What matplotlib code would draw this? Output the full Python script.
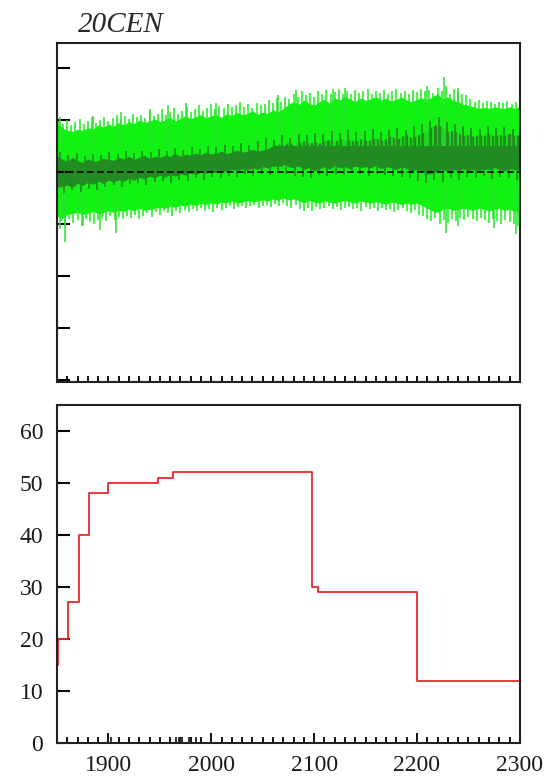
import numpy as np
import matplotlib
matplotlib.use("Agg")
import matplotlib.pyplot as plt
from matplotlib.ticker import MultipleLocator

plt.rcParams['font.family'] = ['Liberation Serif', 'DejaVu Serif']

# --- top panel: anomaly band (values read every 5 years, 1850-2300) ---
years5 = np.arange(1850, 2301, 5)

light_hi = [0.95, 0.85, 0.8, 0.78, 0.82, 0.8, 0.85, 0.83, 0.9, 0.86, 0.92,
            0.88, 0.95, 0.9, 0.97, 0.93, 1.0, 0.95, 0.98, 1.02, 0.97,
            1.0, 1.05, 0.98, 1.03, 1.08, 1.02, 1.06, 1.1, 1.04, 1.08,
            1.1, 1.05, 1.12, 1.08, 1.15, 1.1, 1.12, 1.18, 1.1, 1.15,
            1.12, 1.2, 1.15, 1.22, 1.3, 1.35, 1.3, 1.38, 1.32, 1.28,
            1.35, 1.4, 1.32, 1.42, 1.38, 1.45, 1.4, 1.35, 1.42, 1.38,
            1.4, 1.45, 1.38, 1.42, 1.36, 1.4, 1.44, 1.38, 1.35, 1.4,
            1.42, 1.38, 1.45, 1.5, 1.4, 1.44, 1.38, 1.35, 1.3, 1.28,
            1.25, 1.22, 1.24, 1.22, 1.25, 1.23, 1.22, 1.25, 1.22, 1.26]
light_lo = [-0.85, -0.9, -0.82, -0.8, -0.78, -0.82, -0.8, -0.76, -0.8, -0.78, -0.75,
            -0.78, -0.74, -0.76, -0.72, -0.75, -0.7, -0.74, -0.72, -0.7, -0.68,
            -0.7, -0.66, -0.68, -0.64, -0.66, -0.62, -0.65, -0.6, -0.63, -0.6,
            -0.62, -0.58, -0.6, -0.56, -0.6, -0.58, -0.55, -0.58, -0.56, -0.54,
            -0.56, -0.52, -0.55, -0.5, -0.54, -0.52, -0.55, -0.6, -0.55, -0.58,
            -0.6, -0.56, -0.58, -0.6, -0.57, -0.55, -0.58, -0.6, -0.56, -0.58,
            -0.6, -0.57, -0.6, -0.62, -0.58, -0.6, -0.63, -0.6, -0.62, -0.6,
            -0.65, -0.7, -0.75, -0.78, -0.72, -0.7, -0.74, -0.72, -0.7, -0.72,
            -0.74, -0.7, -0.72, -0.75, -0.72, -0.7, -0.74, -0.72, -0.76, -0.78]
dark_hi = [0.3, 0.25, 0.2, 0.28, 0.22, 0.18, 0.25, 0.2, 0.22, 0.26, 0.24,
           0.22, 0.28, 0.25, 0.3, 0.24, 0.28, 0.32, 0.26, 0.3, 0.28,
           0.32, 0.3, 0.35, 0.3, 0.34, 0.32, 0.36, 0.33, 0.38, 0.35,
           0.36, 0.4, 0.35, 0.38, 0.42, 0.38, 0.4, 0.44, 0.4, 0.42,
           0.45, 0.5, 0.55, 0.5, 0.58, 0.52, 0.56, 0.6, 0.55, 0.58,
           0.55, 0.6, 0.62, 0.58, 0.65, 0.6, 0.62, 0.58, 0.64, 0.6,
           0.62, 0.66, 0.6, 0.64, 0.7, 0.62, 0.68, 0.72, 0.65, 0.7,
           0.75, 0.8, 0.88, 0.92, 0.85, 0.78, 0.8, 0.75, 0.7, 0.72,
           0.68, 0.72, 0.7, 0.75, 0.68, 0.72, 0.7, 0.74, 0.7, 0.72]
dark_lo = [-0.3, -0.28, -0.25, -0.3, -0.22, -0.26, -0.2, -0.24, -0.18, -0.22, -0.16,
           -0.2, -0.15, -0.18, -0.12, -0.16, -0.1, -0.14, -0.08, -0.12, -0.06,
           -0.1, -0.05, -0.08, -0.04, -0.06, -0.02, -0.05, 0.0, -0.03, 0.02,
           -0.02, 0.03, 0.0, 0.05, 0.02, 0.06, 0.03, 0.08, 0.05, 0.1,
           0.08, 0.12, 0.1, 0.14, 0.1, 0.08, 0.12, 0.05, 0.08, 0.02,
           0.06, 0.1, 0.05, 0.12, 0.08, 0.1, 0.06, 0.12, 0.08, 0.1,
           0.08, 0.12, 0.06, 0.1, 0.08, 0.04, 0.1, 0.06, 0.02, 0.05,
           0.0, -0.05, -0.02, 0.02, 0.05, 0.0, 0.04, 0.02, 0.06, 0.03,
           0.05, 0.02, 0.06, 0.04, 0.08, 0.05, 0.02, 0.06, 0.04, 0.05]

# single-year excursions beyond the light band (every 4 years)
up_years = np.arange(1852, 2301, 4)
up_vals = [0.98, 0.92, 1.0, 0.9, 0.95, 1.02, 0.93, 0.97, 1.05, 0.94,
           1.0, 1.06, 0.98, 1.04, 1.1, 1.0, 1.08, 1.02, 1.12, 1.05,
           1.1, 1.04, 1.15, 1.08, 1.12, 1.2, 1.1, 1.16, 1.22, 1.12,
           1.18, 1.25, 1.15, 1.2, 1.28, 1.18, 1.22, 1.3, 1.2, 1.26,
           1.22, 1.3, 1.24, 1.28, 1.35, 1.25, 1.3, 1.22, 1.32, 1.28,
           1.3, 1.38, 1.32, 1.42, 1.35, 1.45, 1.4, 1.5, 1.44, 1.55,
           1.48, 1.52, 1.45, 1.55, 1.5, 1.58, 1.5, 1.54, 1.6, 1.5,
           1.56, 1.5, 1.58, 1.52, 1.55, 1.6, 1.5, 1.56, 1.52, 1.58,
           1.5, 1.55, 1.6, 1.52, 1.56, 1.5, 1.58, 1.54, 1.6, 1.55,
           1.58, 1.52, 1.62, 1.55, 1.65, 1.5, 1.6, 1.55, 1.5, 1.48,
           1.4, 1.35, 1.38, 1.32, 1.36, 1.34, 1.3, 1.35, 1.32, 1.36,
           1.3, 1.34, 1.38]
dn_years = np.arange(1854, 2300, 4)
dn_vals = [-0.95, -1.0, -0.9, -0.98, -0.92, -1.05, -0.9, -0.96, -1.0, -0.92,
           -0.88, -0.95, -0.85, -0.92, -0.86, -0.9, -0.84, -0.88, -0.82, -0.9,
           -0.84, -0.8, -0.86, -0.78, -0.82, -0.76, -0.8, -0.84, -0.76, -0.8,
           -0.74, -0.78, -0.72, -0.76, -0.7, -0.75, -0.72, -0.78, -0.7, -0.74,
           -0.7, -0.66, -0.72, -0.68, -0.65, -0.7, -0.66, -0.64, -0.7, -0.66,
           -0.64, -0.68, -0.62, -0.66, -0.6, -0.65, -0.7, -0.64, -0.72, -0.75,
           -0.7, -0.76, -0.68, -0.72, -0.7, -0.66, -0.72, -0.68, -0.74, -0.7,
           -0.68, -0.72, -0.7, -0.75, -0.68, -0.72, -0.7, -0.76, -0.7, -0.74,
           -0.72, -0.78, -0.74, -0.7, -0.76, -0.8, -0.74, -0.82, -0.85, -0.9,
           -0.95, -0.88, -1.0, -0.92, -0.98, -0.9, -0.95, -0.88, -0.92, -0.86,
           -0.9, -0.95, -0.88, -0.92, -0.98, -0.9, -0.94, -1.0, -0.92, -0.96,
           -1.0, -1.05]
# the larger isolated excursions
big_up_years = [1853, 1885, 1912, 1940, 1958, 1975, 2005, 2065, 2082, 2118, 2130, 2210, 2226, 2240]
big_up_vals = [1.05, 1.08, 1.15, 1.2, 1.28, 1.32, 1.33, 1.48, 1.58, 1.6, 1.62, 1.65, 1.82, 1.62]
big_dn_years = [1853, 1858, 1875, 1892, 1907, 2228, 2240, 2275, 2296]
big_dn_vals = [-1.1, -1.35, -1.05, -1.12, -1.18, -1.17, -1.05, -1.08, -1.2]

# excursions of the dark (smoothed) series (every 8 years)
dk_up_years = np.arange(1853, 2300, 8)
dk_up_vals = [0.38, 0.32, 0.36, 0.3, 0.35, 0.33, 0.38, 0.34, 0.4, 0.36,
              0.4, 0.38, 0.44, 0.4, 0.46, 0.42, 0.48, 0.44, 0.5, 0.48,
              0.52, 0.5, 0.55, 0.52, 0.6, 0.65, 0.62, 0.7, 0.66, 0.72,
              0.7, 0.75, 0.72, 0.78, 0.74, 0.8, 0.76, 0.78, 0.82, 0.76,
              0.8, 0.85, 0.8, 0.88, 0.92, 0.98, 1.05, 0.95, 0.92, 0.88,
              0.85, 0.82, 0.88, 0.84, 0.86, 0.82]
dk_dn_years = np.arange(1857, 2300, 8)
dk_dn_vals = [-0.4, -0.35, -0.38, -0.32, -0.34, -0.3, -0.26, -0.3, -0.24, -0.22,
              -0.25, -0.2, -0.18, -0.22, -0.15, -0.18, -0.12, -0.15, -0.1, -0.12,
              -0.08, -0.1, -0.05, -0.08, -0.04, -0.06, -0.02, -0.05, -0.08, -0.1,
              -0.12, -0.06, -0.08, -0.04, -0.06, -0.02, -0.05, -0.08, -0.04, -0.06,
              -0.08, -0.1, -0.12, -0.18, -0.22, -0.15, -0.2, -0.12, -0.15, -0.1,
              -0.12, -0.08, -0.14, -0.1, -0.12, -0.15]

# --- bottom panel: step count ---
step_years = [1850, 1851, 1861, 1871, 1881, 1900, 1948, 1963, 2098, 2104, 2200, 2300]
step_vals = [15, 20, 27, 40, 48, 50, 51, 52, 30, 29, 12, 12]
rug_years = [1903, 1966, 1969, 1972, 1978, 1985]

fig = plt.figure(figsize=(5.53, 7.81), dpi=100)
ax1 = fig.add_axes([0.103, 0.511, 0.837, 0.434])
ax2 = fig.add_axes([0.103, 0.0487, 0.837, 0.433])

light = '#12f212'
dark = '#228b22'

ax1.fill_between(years5, light_lo, light_hi, color=light, lw=0)
ax1.vlines(up_years, 0.5, up_vals, color=light, lw=1.1)
ax1.vlines(dn_years, dn_vals, -0.3, color=light, lw=1.1)
ax1.vlines(big_up_years, 0.5, big_up_vals, color='#2ee02e', lw=1.1)
ax1.vlines(big_dn_years, big_dn_vals, -0.3, color='#2ee02e', lw=1.1)
ax1.fill_between(years5, dark_lo, dark_hi, color=dark, lw=0)
ax1.vlines(dk_up_years, 0.1, dk_up_vals, color=dark, lw=1.2)
ax1.vlines(dk_dn_years, dk_dn_vals, 0.1, color=dark, lw=1.2)
ax1.axhline(0, color='black', lw=1.2, ls=(0, (4, 2)))
ax1.set_xlim(1850, 2300)
ax1.set_ylim(-4.04, 2.48)
ax1.yaxis.set_major_locator(MultipleLocator(1))
ax1.xaxis.set_major_locator(MultipleLocator(100))
ax1.xaxis.set_minor_locator(MultipleLocator(10))
ax1.tick_params(axis='y', direction='in', length=9, width=1.5, labelleft=False, right=False)
ax1.tick_params(axis='x', which='both', direction='in', length=4, width=1.3,
                labelbottom=False, top=False)
ax1.text(0.045, 1.015, '20CEN', transform=ax1.transAxes, fontsize=21,
         style='italic', color='#2a2a2a', ha='left', va='bottom')

ax2.plot(step_years, step_vals, drawstyle='steps-post', color='#e8282f', lw=1.3)
ax2.vlines(rug_years, 0, 1.2, color='#222222', lw=1.3)
ax2.set_xlim(1850, 2300)
ax2.set_ylim(0, 65)
ax2.yaxis.set_major_locator(MultipleLocator(10))
ax2.xaxis.set_major_locator(MultipleLocator(100))
ax2.xaxis.set_minor_locator(MultipleLocator(10))
ax2.tick_params(axis='y', direction='in', length=9, width=1.5, pad=10,
                labelsize=17, labelcolor='#1a1a1a', right=False)
ax2.tick_params(axis='x', which='major', direction='in', length=7, width=1.3,
                pad=9, labelsize=17, labelcolor='#1a1a1a', top=False)
ax2.tick_params(axis='x', which='minor', direction='in', length=4, width=1.3, top=False)

for ax in (ax1, ax2):
    for s in ax.spines.values():
        s.set_linewidth(1.5)
        s.set_color('#222222')

fig.savefig('out.png', dpi=100)
